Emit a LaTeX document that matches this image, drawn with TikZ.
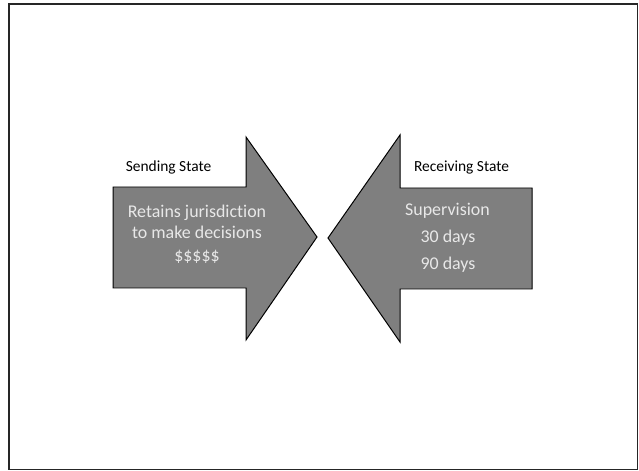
\documentclass[tikz,border=0pt]{standalone}
\usepackage{fontspec}
\setmainfont{Carlito}[RawFeature=-liga]
\definecolor{arrowgray}{RGB}{127,127,127}
\definecolor{lighttext}{RGB}{232,232,232}
\tikzset{
  bigarrow/.style={draw=black, fill=arrowgray, line width=1pt, line join=miter},
  statelabel/.style={font=\fontsize{15.5}{18}\selectfont, text=black, anchor=base, inner sep=0pt},
  inner/.style={font=\fontsize{18}{21}\selectfont, text=lighttext, anchor=base, inner sep=0pt}
}
\begin{document}
\begin{tikzpicture}[x=1bp, y=-1bp]
  \useasboundingbox (0,0) rectangle (639,471);
  % Le cadre
  \draw[line width=1.5pt, black!85] (9,4) rectangle (637.5,469.5);

  % Les flèches
  \draw[bigarrow] (113,187) -- (246,187) -- (246,137) -- (317,237)
    -- (246,340) -- (246,288) -- (113,288) -- cycle;
  \draw[bigarrow] (532,188) -- (400,188) -- (400,135) -- (328,238)
    -- (400,342) -- (400,289) -- (532,289) -- cycle;

  % Les textes
  \node[statelabel] (send) at (168.5,171.5) {Sending State};
  \node[statelabel] (recv) at (461.5,171.5) {Receiving State};

  \node[inner] (retain) at (197,218) {Retains jurisdiction};
  \node[inner] (decide) at (197,238.5) {to make decisions};
  \node[inner] (money) at (197,262) {\$\$\$\$\$};

  \node[inner] (super) at (447.5,215.5) {Supervision};
  \node[inner] (thirty) at (448,243) {30 days};
  \node[inner] (ninety) at (448,270) {90 days};
\end{tikzpicture}
\end{document}
